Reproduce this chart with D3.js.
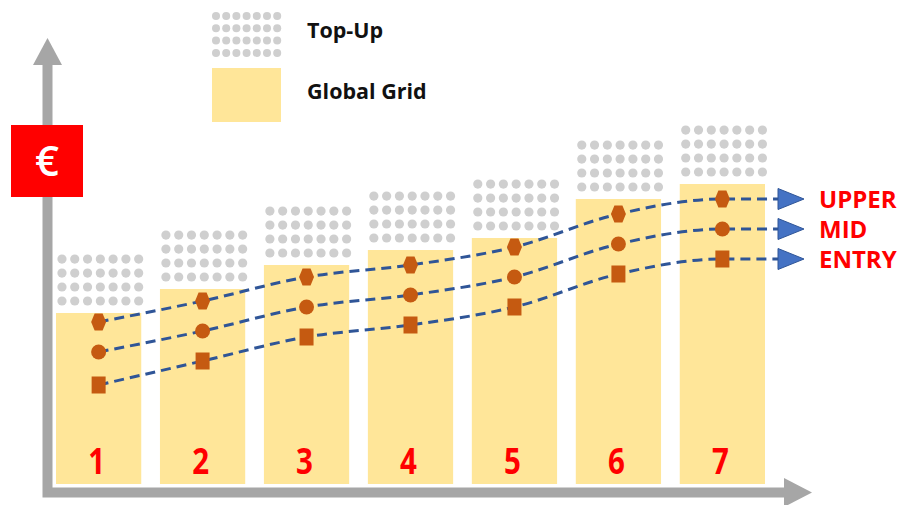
<!DOCTYPE html>
<html>
<head>
<meta charset="utf-8">
<script src="https://cdn.jsdelivr.net/npm/d3@7"></script>
<style>
  body { margin: 0; background: #fff; }
  svg { display: block; }
</style>
</head>
<body>
<div class="grid-chart"></div>
<script>
// data
let grades = ["1", "2", "3", "4", "5", "6", "7"]
let globalGrid = [57, 65, 73, 78, 82, 95, 100]
let topUp = [20, 20, 20, 20, 20, 20, 20]
let upper = [54, 61, 69, 73, 79, 90, 95]
let mid = [44, 51, 59, 63, 69, 80, 85]
let entry = [33, 41, 49, 53, 59, 70, 75]
let levelNames = ["UPPER", "MID", "ENTRY"]
let legendNames = ["Top-Up", "Global Grid"]

let width = 909, height = 505
let axisColor = "#a6a6a6", barColor = "#ffe699", dotColor = "#cfcfcf"
let markColor = "#c55a11", lineColor = "#2f5597", red = "#ff0000"

let svg = d3.select(".grid-chart")
    .append("svg")
    .attr("width", width)
    .attr("height", height)

let xScale = d3.scaleBand()
    .domain(grades)
    .range([56, 765])
    .paddingInner(0.18)
    .paddingOuter(0)
let bw = xScale.bandwidth()
let yScale = d3.scaleLinear()
    .domain([0, 150])
    .range([484, 34])

// axes with arrows
svg.append("path")
    .attr("stroke", axisColor)
    .attr("stroke-width", 10)
    .attr("fill", "none")
    .attr("d", `M47.5,62 V492.5 H786`)
svg.append("path")
    .attr("fill", axisColor)
    .attr("d", "M33,65 L47.5,38 L62,65 Z")
svg.append("path")
    .attr("fill", axisColor)
    .attr("d", "M784,478 L812,492.5 L784,507 Z")

// euro box
svg.append("rect")
    .attr("x", 11).attr("y", 125)
    .attr("width", 72).attr("height", 72)
    .attr("fill", red)
svg.append("text")
    .attr("x", 47).attr("y", 176)
    .attr("text-anchor", "middle")
    .attr("font-family", "Open Sans, sans-serif")
    .attr("font-weight", 600)
    .attr("font-size", 42)
    .attr("fill", "#fff")
    .text("€")

// global grid bars
svg.append("g")
    .selectAll("rect")
    .data(grades)
    .enter()
    .append("rect")
    .attr("x", d => xScale(d))
    .attr("y", (d, i) => yScale(globalGrid[i]))
    .attr("width", bw)
    .attr("height", (d, i) => yScale(0) - yScale(globalGrid[i]))
    .attr("fill", barColor)

// top-up dots
let dotG = svg.append("g")
grades.forEach((g, i) => {
    let yb = yScale(globalGrid[i])
    let h = yb - yScale(globalGrid[i] + topUp[i])
    for (let r = 0; r < 4; r++) {
        for (let c = 0; c < 7; c++) {
            dotG.append("circle")
                .attr("cx", xScale(g) + bw * (0.07 + c * 0.15))
                .attr("cy", yb - h * (0.2 + r * 0.233))
                .attr("r", 4.6)
                .attr("fill", dotColor)
        }
    }
})

// grade numbers (narrowed)
svg.append("g")
    .selectAll("text")
    .data(grades)
    .enter()
    .append("text")
    .attr("transform", d => `translate(${xScale(d) + bw / 2 - 2},474) scale(0.82,1)`)
    .attr("text-anchor", "middle")
    .attr("font-family", "'Open Sans', sans-serif")
    .attr("font-weight", "bold")
    .attr("font-size", 36)
    .attr("fill", red)
    .text(d => d)

// dashed lines
let levels = [upper, mid, entry]
let arrowX = xScale(grades[6]) + bw + 13
let line = d3.line()
    .x(d => d[0])
    .y(d => d[1])
    .curve(d3.curveMonotoneX)
levels.forEach((vals, k) => {
    let pts = grades.map((g, i) => [xScale(g) + bw / 2, yScale(vals[i])])
    pts.push([arrowX, yScale(vals[vals.length - 1])])
    svg.append("path")
        .attr("fill", "none")
        .attr("stroke", lineColor)
        .attr("stroke-width", 3)
        .attr("stroke-dasharray", "10,6")
        .attr("d", line(pts))
    let ye = yScale(vals[vals.length - 1])
    svg.append("path")
        .attr("fill", "#4472c4")
        .attr("stroke", lineColor)
        .attr("stroke-width", 1)
        .attr("d", `M${arrowX},${ye - 10.5} L${arrowX + 26},${ye} L${arrowX},${ye + 10.5} Z`)
    svg.append("text")
        .attr("x", arrowX + 41)
        .attr("y", ye + 8.5)
        .attr("font-family", "Open Sans, sans-serif")
        .attr("font-weight", "bold")
        .attr("font-size", 24)
        .attr("fill", red)
        .text(levelNames[k])
})

// markers
let markG = svg.append("g").attr("fill", markColor)
grades.forEach((g, i) => {
    let cx = xScale(g) + bw / 2
    let yu = yScale(upper[i])
    markG.append("path")
        .attr("d", `M${cx - 4},${yu - 8.5} H${cx + 4} L${cx + 7.5},${yu} L${cx + 4},${yu + 8.5} H${cx - 4} L${cx - 7.5},${yu} Z`)
    markG.append("circle")
        .attr("cx", cx)
        .attr("cy", yScale(mid[i]))
        .attr("r", 7.5)
    markG.append("rect")
        .attr("x", cx - 7)
        .attr("y", yScale(entry[i]) - 8.5)
        .attr("width", 14)
        .attr("height", 17)
})

// legend
let legendG = svg.append("g")
for (let r = 0; r < 4; r++) {
    for (let c = 0; c < 7; c++) {
        legendG.append("circle")
            .attr("cx", 216 + c * 10.2)
            .attr("cy", 16 + r * 12.3)
            .attr("r", 4)
            .attr("fill", dotColor)
    }
}
legendG.append("rect")
    .attr("x", 212).attr("y", 68)
    .attr("width", 69).attr("height", 54)
    .attr("fill", barColor)
legendG.selectAll("text")
    .data(legendNames)
    .enter()
    .append("text")
    .attr("x", 307)
    .attr("y", (d, i) => i === 0 ? 38 : 99)
    .attr("font-family", "Open Sans, sans-serif")
    .attr("font-weight", "bold")
    .attr("font-size", 21.5)
    .attr("fill", "#111")
    .text(d => d)
</script>
</body>
</html>
